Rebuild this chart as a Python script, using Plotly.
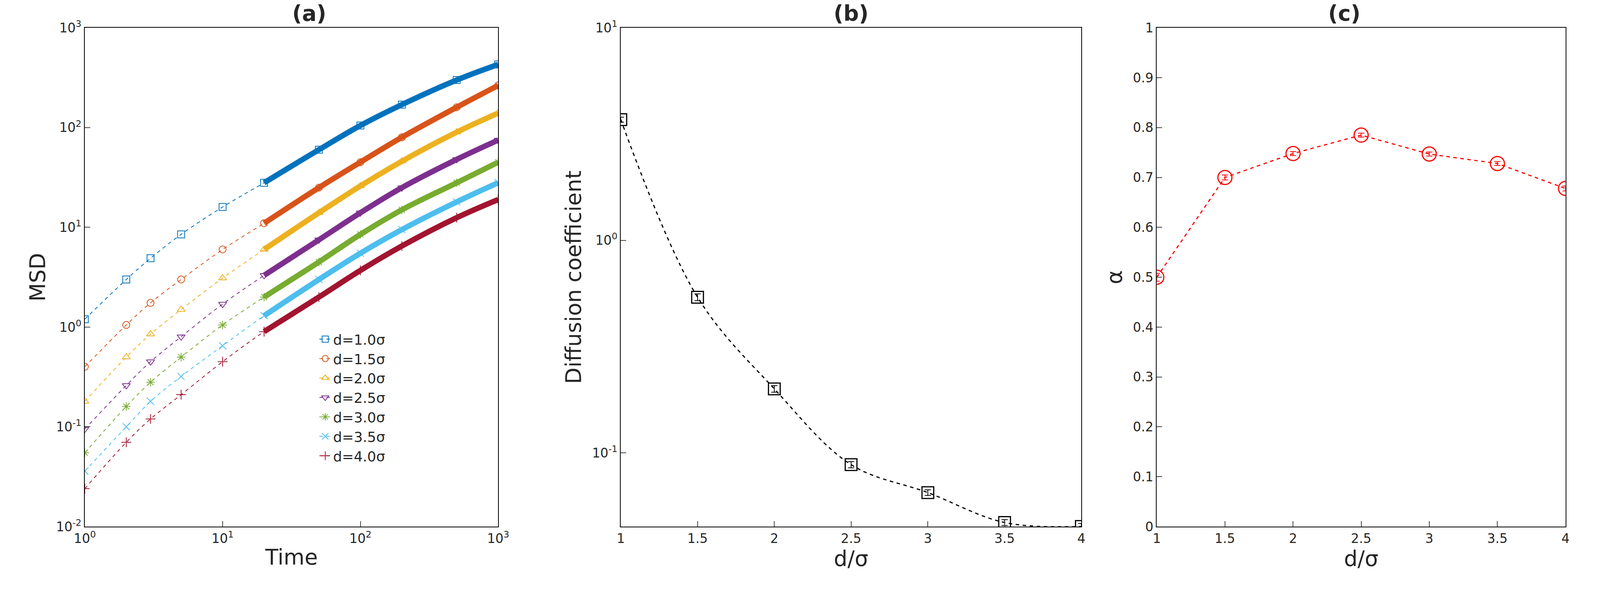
import plotly.graph_objects as go

# ---- data ----
times = [1, 2, 3, 5, 10, 20, 50, 100, 200, 500, 1000]
labels = ["d=1.0σ", "d=1.5σ", "d=2.0σ", "d=2.5σ", "d=3.0σ", "d=3.5σ", "d=4.0σ"]
msd = [
    [1.2, 3.0, 4.9, 8.5, 16, 28, 60, 105, 170, 300, 430],
    [0.4, 1.05, 1.75, 3.0, 6.0, 11, 25, 45, 80, 160, 265],
    [0.18, 0.5, 0.85, 1.5, 3.1, 6, 14, 26, 46, 90, 140],
    [0.095, 0.26, 0.45, 0.8, 1.7, 3.3, 7.5, 14, 25, 48, 75],
    [0.055, 0.16, 0.28, 0.5, 1.05, 2.0, 4.5, 8.5, 15, 28, 45],
    [0.036, 0.1, 0.18, 0.32, 0.65, 1.3, 3.0, 5.5, 9.5, 18, 28],
    [0.024, 0.07, 0.12, 0.21, 0.45, 0.9, 2.0, 3.7, 6.5, 12.5, 19],
]
d_vals = [1, 1.5, 2, 2.5, 3, 3.5, 4]
diff_coef = [3.7, 0.54, 0.2, 0.088, 0.065, 0.047, 0.045]
diff_err = [0.1, 0.02, 0.007, 0.003, 0.002, 0.0015, 0.0015]
alpha = [0.5, 0.70, 0.748, 0.785, 0.747, 0.728, 0.678]
alpha_err = [0.008, 0.005, 0.004, 0.004, 0.004, 0.004, 0.005]

colors = ["#0072BD", "#D95319", "#EDB120", "#7E2F8E", "#77AC30", "#4DBEEE", "#A2142F"]
symbols = ["square-open", "circle-open", "triangle-up-open", "triangle-down-open",
           "asterisk-open", "x-thin-open", "cross-thin-open"]

def pow_ticks(lo, hi):
    vals = [10 ** e for e in range(lo, hi + 1)]
    txt = ["10<sup>%d</sup>" % e for e in range(lo, hi + 1)]
    return vals, txt

fig = go.Figure()
for i, lab in enumerate(labels):
    fig.add_trace(go.Scatter(x=times[5:], y=msd[i][5:], mode="lines",
                             line=dict(color=colors[i], width=14, shape="spline"),
                             showlegend=False, xaxis="x", yaxis="y", hoverinfo="skip"))
    fig.add_trace(go.Scatter(x=times, y=msd[i], mode="lines+markers", name=lab,
                             line=dict(color=colors[i], width=2, dash="dash", shape="spline"),
                             marker=dict(symbol=symbols[i], size=18, color=colors[i],
                                         line=dict(width=2, color=colors[i])),
                             xaxis="x", yaxis="y"))

fig.add_trace(go.Scatter(x=d_vals, y=diff_coef, mode="lines+markers", showlegend=False,
                         line=dict(color="black", width=3, dash="dash", shape="spline"),
                         marker=dict(symbol="square-open", size=30, color="black", line=dict(width=3)),
                         error_y=dict(array=diff_err, color="black", thickness=2, width=8),
                         xaxis="x2", yaxis="y2"))
fig.add_trace(go.Scatter(x=d_vals, y=alpha, mode="lines+markers", showlegend=False,
                         line=dict(color="red", width=3, dash="dash"),
                         marker=dict(symbol="circle-open", size=36, color="red", line=dict(width=3)),
                         error_y=dict(array=alpha_err, color="red", thickness=2, width=8),
                         xaxis="x3", yaxis="y3"))

ax = dict(showline=True, mirror=True, linecolor="black", linewidth=2, ticks="inside", ticklen=14,
          tickwidth=2, showgrid=False, zeroline=False, tickfont=dict(size=33, color="#262626"),
          title_font=dict(size=55, color="#262626"))
yd = [0.119, 0.973]
xv, xt = pow_ticks(0, 3)
yv, yt = pow_ticks(-2, 3)
bv, bt = pow_ticks(-1, 1)
fig.update_layout(
    autosize=True, paper_bgcolor="white", plot_bgcolor="white",
    margin=dict(l=0, r=0, t=0, b=0), font=dict(family="DejaVu Sans", color="#262626"),
    xaxis=dict(ax, domain=[0.045, 0.308], type="log", range=[0, 3], tickvals=xv, ticktext=xt,
               title=dict(text="Time", standoff=10)),
    yaxis=dict(ax, domain=yd, type="log", range=[-2, 3], tickvals=yv, ticktext=yt,
               title=dict(text="MSD", standoff=10)),
    xaxis2=dict(ax, domain=[0.386, 0.679], anchor="y2", range=[1, 4], dtick=0.5,
                title=dict(text="d/σ", standoff=10)),
    yaxis2=dict(ax, domain=yd, anchor="x2", type="log", range=[-1.347, 1], tickvals=bv, ticktext=bt,
                title=dict(text="Diffusion coefficient", standoff=10)),
    xaxis3=dict(ax, domain=[0.727, 0.987], anchor="y3", range=[1, 4], dtick=0.5,
                title=dict(text="d/σ", standoff=10)),
    yaxis3=dict(ax, domain=yd, anchor="x3", range=[0, 1], dtick=0.1,
                title=dict(text="α", standoff=10)),
    legend=dict(x=0.193, y=0.46, xanchor="left", yanchor="top", font=dict(size=36),
                bgcolor="rgba(0,0,0,0)", tracegroupgap=0),
    annotations=[
        dict(text="<b>(a)</b>", x=0.1765, y=0.975, xref="paper", yref="paper", showarrow=False,
             yanchor="bottom", font=dict(size=55)),
        dict(text="<b>(b)</b>", x=0.5325, y=0.975, xref="paper", yref="paper", showarrow=False,
             yanchor="bottom", font=dict(size=55)),
        dict(text="<b>(c)</b>", x=0.857, y=0.975, xref="paper", yref="paper", showarrow=False,
             yanchor="bottom", font=dict(size=55)),
    ],
)
fig.write_html("out.html", default_width="100%", default_height="100%")
